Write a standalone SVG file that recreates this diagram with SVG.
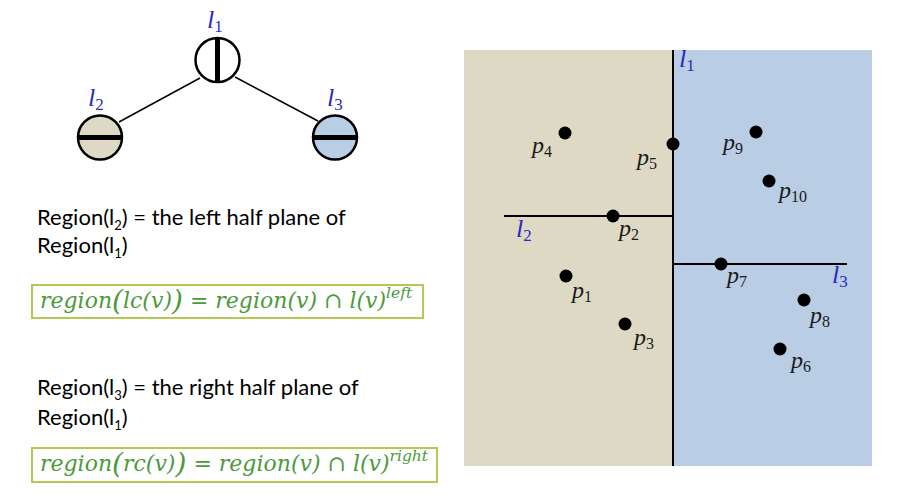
<svg xmlns="http://www.w3.org/2000/svg" width="897" height="502" viewBox="0 0 897 502">
<style>
.edge{stroke:#000;stroke-width:1.5;fill:none}
.node{stroke:#000;stroke-width:2.5}
.bar{stroke:#000;stroke-width:5}
.lbl{font-family:"Liberation Serif","DejaVu Serif",serif;font-style:italic;fill:#2b2bc0;font-size:26px}
.sub{font-size:17px;font-style:normal}
.body{font-family:Lato,"Liberation Sans",sans-serif;font-size:22px;fill:#000}
.bsub{font-size:13px}
.box{fill:none;stroke:#b5c853;stroke-width:2}
.frm{font-family:"DejaVu Serif",serif;font-style:italic;font-size:22px;fill:#4c9a3c}
.pl{font-family:"Liberation Serif","DejaVu Serif",serif;font-style:italic;font-size:24px;fill:#1a1a1a}
.ps{font-size:16px;font-style:normal}
.pt{fill:#000}
.split{stroke:#000;stroke-width:2}
</style>
<g id="connectors">
<line class="edge" x1="200" y1="78" x2="119" y2="122"/>
<line class="edge" x1="235" y1="77" x2="318" y2="121"/>
</g>
<g id="node-l1">
<circle class="node" cx="217.5" cy="60" r="22" fill="#fff"/>
<line class="bar" x1="217.5" y1="38" x2="217.5" y2="82"/>
<text class="lbl" x="207" y="28">l<tspan class="sub" dy="4">1</tspan></text>
</g>
<g id="node-l2">
<circle class="node" cx="100" cy="137.5" r="22" fill="#ddd9c4"/>
<line class="bar" x1="78" y1="137.5" x2="122" y2="137.5"/>
<text class="lbl" x="88" y="106">l<tspan class="sub" dy="4">2</tspan></text>
</g>
<g id="node-l3">
<circle class="node" cx="335" cy="137.5" r="22" fill="#b9cde5"/>
<line class="bar" x1="313" y1="137.5" x2="357" y2="137.5"/>
<text class="lbl" x="327" y="106">l<tspan class="sub" dy="4">3</tspan></text>
</g>
<g id="text-left">
<text class="body" x="37" y="225">Region(l<tspan class="bsub" dy="5">2</tspan><tspan dy="-5">) = the left half plane of</tspan></text>
<text class="body" x="37" y="253">Region(l<tspan class="bsub" dy="5">1</tspan><tspan dy="-5">)</tspan></text>
<rect class="box" x="32" y="285" width="391" height="33"/>
<text class="frm" x="40" y="308">region<tspan font-size="28" dy="2">(</tspan><tspan dy="-2">lc(v)</tspan><tspan font-size="28" dy="2">)</tspan><tspan dy="-2"> = region(v) ∩ l(v)</tspan><tspan font-size="15.5" dy="-10">left</tspan></text>
</g>
<g id="text-right">
<text class="body" x="37" y="395">Region(l<tspan class="bsub" dy="5">3</tspan><tspan dy="-5">) = the right half plane of</tspan></text>
<text class="body" x="37" y="425">Region(l<tspan class="bsub" dy="5">1</tspan><tspan dy="-5">)</tspan></text>
<rect class="box" x="32" y="448" width="405" height="34"/>
<text class="frm" x="40" y="471">region<tspan font-size="28" dy="2">(</tspan><tspan dy="-2">rc(v)</tspan><tspan font-size="28" dy="2">)</tspan><tspan dy="-2"> = region(v) ∩ l(v)</tspan><tspan font-size="15.5" dy="-10">right</tspan></text>
</g>
<g id="plane">
<rect x="464" y="50" width="209" height="416" fill="#ddd9c4"/>
<rect x="673" y="50" width="199" height="416" fill="#b9cde5"/>
<line class="split" x1="673" y1="50" x2="673" y2="466"/>
<line class="split" x1="504" y1="216" x2="673" y2="216"/>
<line class="split" x1="673" y1="264" x2="847" y2="264"/>
<text class="lbl" x="679" y="67">l<tspan class="sub" dy="4">1</tspan></text>
<text class="lbl" x="516" y="237">l<tspan class="sub" dy="4">2</tspan></text>
<text class="lbl" x="832" y="283">l<tspan class="sub" dy="4">3</tspan></text>
</g>
<g id="points">
<circle class="pt" cx="565" cy="133" r="6.5"/>
<circle class="pt" cx="673" cy="144" r="6.5"/>
<circle class="pt" cx="613" cy="216" r="6.5"/>
<circle class="pt" cx="756" cy="132" r="6.5"/>
<circle class="pt" cx="769" cy="181" r="6.5"/>
<circle class="pt" cx="566" cy="276" r="6.5"/>
<circle class="pt" cx="625" cy="324" r="6.5"/>
<circle class="pt" cx="721" cy="264" r="6.5"/>
<circle class="pt" cx="804" cy="300" r="6.5"/>
<circle class="pt" cx="780" cy="349" r="6.5"/>
<text class="pl" x="532" y="153">p<tspan class="ps" dy="4">4</tspan></text>
<text class="pl" x="637" y="165">p<tspan class="ps" dy="4">5</tspan></text>
<text class="pl" x="619" y="236">p<tspan class="ps" dy="4">2</tspan></text>
<text class="pl" x="723" y="150">p<tspan class="ps" dy="4">9</tspan></text>
<text class="pl" x="779" y="198">p<tspan class="ps" dy="4">10</tspan></text>
<text class="pl" x="572" y="298">p<tspan class="ps" dy="4">1</tspan></text>
<text class="pl" x="634" y="345">p<tspan class="ps" dy="4">3</tspan></text>
<text class="pl" x="727" y="283">p<tspan class="ps" dy="4">7</tspan></text>
<text class="pl" x="810" y="323">p<tspan class="ps" dy="4">8</tspan></text>
<text class="pl" x="791" y="368">p<tspan class="ps" dy="4">6</tspan></text>
</g>
</svg>
